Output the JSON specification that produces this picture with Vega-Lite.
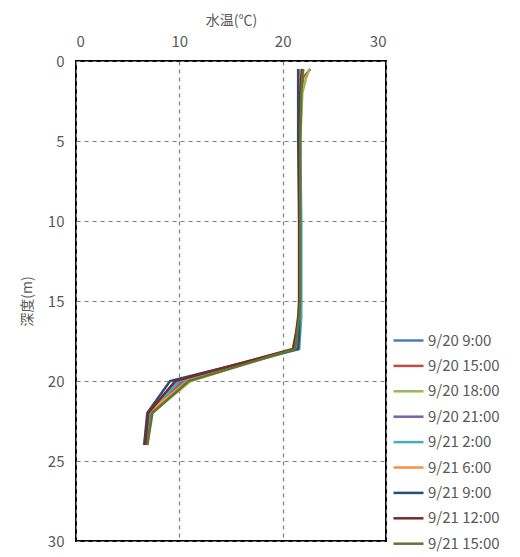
{
  "$schema": "https://vega.github.io/schema/vega-lite/v6.json",
  "width": 310,
  "height": 480,
  "autosize": {"type": "none"},
  "padding": {"left": 76, "top": 61, "right": 134, "bottom": 16},
  "background": "white",
  "config": {
    "font": "Noto Sans CJK JP",
    "view": {"stroke": "#000000", "strokeWidth": 2},
    "axis": {"labelColor": "#595959", "titleColor": "#595959", "labelFontSize": 15, "titleFontSize": 14, "titleFontWeight": "normal", "labelFont": "Noto Sans CJK JP", "titleFont": "Noto Sans CJK JP"},
    "legend": {"labelColor": "#595959", "labelFontSize": 15, "labelFont": "Noto Sans CJK JP"}
  },
  "data": {"values": [
    {"s":"9/20 9:00","d":0.5,"t":21.6},{"s":"9/20 9:00","d":1,"t":21.6},{"s":"9/20 9:00","d":2,"t":21.6},{"s":"9/20 9:00","d":5,"t":21.6},{"s":"9/20 9:00","d":10,"t":21.7},{"s":"9/20 9:00","d":15,"t":21.7},{"s":"9/20 9:00","d":16,"t":21.7},{"s":"9/20 9:00","d":17,"t":21.6},{"s":"9/20 9:00","d":18,"t":21.4},{"s":"9/20 9:00","d":20,"t":9.8},{"s":"9/20 9:00","d":22,"t":7.1},{"s":"9/20 9:00","d":24,"t":6.8},
    {"s":"9/20 15:00","d":0.5,"t":22.7},{"s":"9/20 15:00","d":1,"t":22.0},{"s":"9/20 15:00","d":2,"t":21.8},{"s":"9/20 15:00","d":5,"t":21.6},{"s":"9/20 15:00","d":10,"t":21.6},{"s":"9/20 15:00","d":15,"t":21.6},{"s":"9/20 15:00","d":16,"t":21.6},{"s":"9/20 15:00","d":17,"t":21.4},{"s":"9/20 15:00","d":18,"t":21.1},{"s":"9/20 15:00","d":20,"t":10.2},{"s":"9/20 15:00","d":22,"t":7.0},{"s":"9/20 15:00","d":24,"t":6.7},
    {"s":"9/20 18:00","d":0.5,"t":22.6},{"s":"9/20 18:00","d":1,"t":22.3},{"s":"9/20 18:00","d":2,"t":21.9},{"s":"9/20 18:00","d":5,"t":21.7},{"s":"9/20 18:00","d":10,"t":21.7},{"s":"9/20 18:00","d":15,"t":21.7},{"s":"9/20 18:00","d":16,"t":21.6},{"s":"9/20 18:00","d":17,"t":21.3},{"s":"9/20 18:00","d":18,"t":21.0},{"s":"9/20 18:00","d":20,"t":11.1},{"s":"9/20 18:00","d":22,"t":7.3},{"s":"9/20 18:00","d":24,"t":6.9},
    {"s":"9/20 21:00","d":0.5,"t":21.8},{"s":"9/20 21:00","d":1,"t":21.8},{"s":"9/20 21:00","d":2,"t":21.7},{"s":"9/20 21:00","d":5,"t":21.6},{"s":"9/20 21:00","d":10,"t":21.6},{"s":"9/20 21:00","d":15,"t":21.6},{"s":"9/20 21:00","d":16,"t":21.6},{"s":"9/20 21:00","d":17,"t":21.4},{"s":"9/20 21:00","d":18,"t":21.2},{"s":"9/20 21:00","d":20,"t":10.5},{"s":"9/20 21:00","d":22,"t":7.2},{"s":"9/20 21:00","d":24,"t":6.8},
    {"s":"9/21 2:00","d":0.5,"t":21.7},{"s":"9/21 2:00","d":1,"t":21.7},{"s":"9/21 2:00","d":2,"t":21.7},{"s":"9/21 2:00","d":5,"t":21.7},{"s":"9/21 2:00","d":10,"t":21.8},{"s":"9/21 2:00","d":15,"t":21.8},{"s":"9/21 2:00","d":16,"t":21.8},{"s":"9/21 2:00","d":17,"t":21.7},{"s":"9/21 2:00","d":18,"t":21.6},{"s":"9/21 2:00","d":20,"t":10.0},{"s":"9/21 2:00","d":22,"t":7.1},{"s":"9/21 2:00","d":24,"t":6.8},
    {"s":"9/21 6:00","d":0.5,"t":21.6},{"s":"9/21 6:00","d":1,"t":21.6},{"s":"9/21 6:00","d":2,"t":21.6},{"s":"9/21 6:00","d":5,"t":21.6},{"s":"9/21 6:00","d":10,"t":21.6},{"s":"9/21 6:00","d":15,"t":21.6},{"s":"9/21 6:00","d":16,"t":21.6},{"s":"9/21 6:00","d":17,"t":21.5},{"s":"9/21 6:00","d":18,"t":21.3},{"s":"9/21 6:00","d":20,"t":10.8},{"s":"9/21 6:00","d":22,"t":7.0},{"s":"9/21 6:00","d":24,"t":6.6},
    {"s":"9/21 9:00","d":0.5,"t":21.5},{"s":"9/21 9:00","d":1,"t":21.5},{"s":"9/21 9:00","d":2,"t":21.5},{"s":"9/21 9:00","d":5,"t":21.5},{"s":"9/21 9:00","d":10,"t":21.6},{"s":"9/21 9:00","d":15,"t":21.6},{"s":"9/21 9:00","d":16,"t":21.6},{"s":"9/21 9:00","d":17,"t":21.6},{"s":"9/21 9:00","d":18,"t":21.5},{"s":"9/21 9:00","d":20,"t":9.1},{"s":"9/21 9:00","d":22,"t":6.9},{"s":"9/21 9:00","d":24,"t":6.6},
    {"s":"9/21 12:00","d":0.5,"t":21.9},{"s":"9/21 12:00","d":1,"t":21.8},{"s":"9/21 12:00","d":2,"t":21.7},{"s":"9/21 12:00","d":5,"t":21.6},{"s":"9/21 12:00","d":10,"t":21.6},{"s":"9/21 12:00","d":15,"t":21.6},{"s":"9/21 12:00","d":16,"t":21.5},{"s":"9/21 12:00","d":17,"t":21.3},{"s":"9/21 12:00","d":18,"t":21.0},{"s":"9/21 12:00","d":20,"t":9.6},{"s":"9/21 12:00","d":22,"t":7.0},{"s":"9/21 12:00","d":24,"t":6.7},
    {"s":"9/21 15:00","d":0.5,"t":22.0},{"s":"9/21 15:00","d":1,"t":21.9},{"s":"9/21 15:00","d":2,"t":21.8},{"s":"9/21 15:00","d":5,"t":21.7},{"s":"9/21 15:00","d":10,"t":21.7},{"s":"9/21 15:00","d":15,"t":21.7},{"s":"9/21 15:00","d":16,"t":21.6},{"s":"9/21 15:00","d":17,"t":21.4},{"s":"9/21 15:00","d":18,"t":21.2},{"s":"9/21 15:00","d":20,"t":10.9},{"s":"9/21 15:00","d":22,"t":7.4},{"s":"9/21 15:00","d":24,"t":6.9}
  ]},
  "mark": {"type": "line", "strokeWidth": 2.5},
  "encoding": {
    "x": {"field": "t", "type": "quantitative", "scale": {"domain": [0, 30], "nice": false},
      "axis": {"orient": "top", "title": "水温(℃)", "values": [0, 10, 20, 30], "domain": false, "ticks": false, "labelPadding": 12, "titlePadding": 7,
        "grid": true, "gridDash": [4, 4], "gridColor": "#7f7f7f", "gridWidth": 1.2}},
    "y": {"field": "d", "type": "quantitative", "scale": {"domain": [0, 30], "reverse": true, "nice": false},
      "axis": {"title": "深度(m)", "values": [0, 5, 10, 15, 20, 25, 30], "domain": false, "ticks": false, "labelPadding": 12, "titlePadding": 13,
        "grid": true, "gridDash": [4, 4], "gridColor": "#7f7f7f", "gridWidth": 1.2}},
    "color": {"field": "s", "type": "nominal", "title": null,
      "scale": {"domain": ["9/20 9:00","9/20 15:00","9/20 18:00","9/20 21:00","9/21 2:00","9/21 6:00","9/21 9:00","9/21 12:00","9/21 15:00"],
        "range": ["#4a7ebb","#be4b48","#98b954","#7d60a0","#46aac5","#f69240","#2c4d75","#772c2a","#5f7530"]},
      "legend": {"orient": "none", "legendX": 316, "legendY": 263, "symbolType": "stroke", "symbolSize": 900, "symbolStrokeWidth": 2.5, "rowPadding": 0.4, "labelOffset": 3}},
    "order": {"field": "d", "type": "quantitative"}
  }
}
